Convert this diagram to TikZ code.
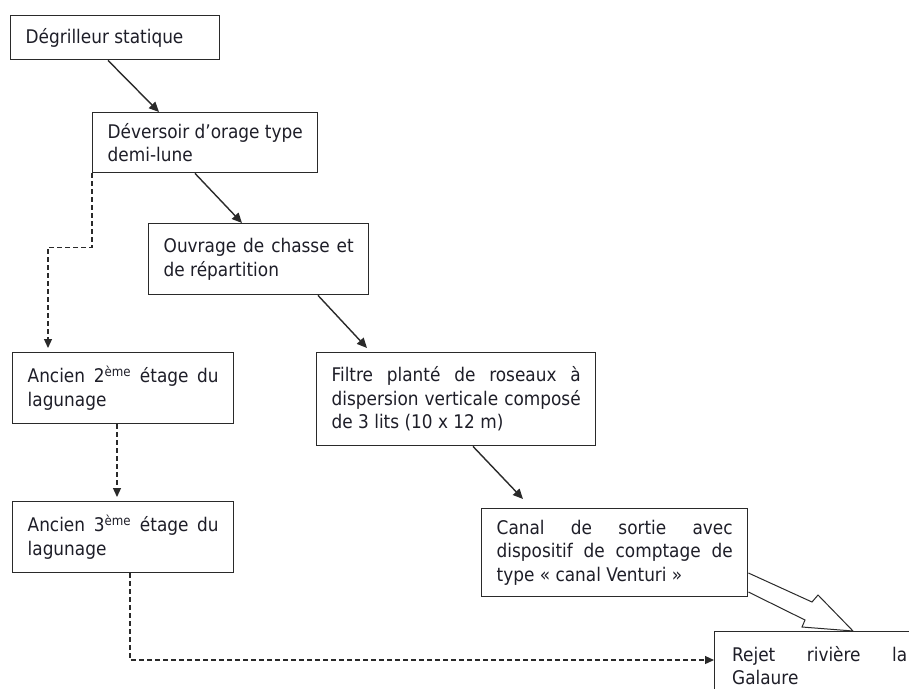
\documentclass[tikz,border=0pt]{standalone}
\usepackage{fontspec}
\setmainfont{DejaVu Sans Condensed}
\usetikzlibrary{arrows.meta,calc}
\definecolor{ln}{HTML}{2A2A2A}
\definecolor{tx}{HTML}{1E1E28}
\begin{document}
\begin{tikzpicture}[x=1pt,y=-1pt,
  box/.style={draw=ln, line width=1.4pt, fill=white, anchor=north west,
    inner xsep=15pt, inner ysep=4pt, align=justify, text=tx,
    font=\fontsize{18.8}{23.5}\selectfont},
  solidarr/.style={draw=ln, line width=1.4pt, -{Triangle[length=10pt,width=9pt]}},
  dasharr/.style={draw=ln, line width=1.2pt, dash pattern=on 5pt off 3pt,
    -{Triangle[length=9pt,width=8pt]}},
  hollow/.style={draw=ln, line width=1pt, fill=white, line join=miter}
]
\useasboundingbox (0,0) rectangle (909,688);
\clip (0,0) rectangle (909,688);
\fill[white] (0,0) rectangle (909,688);

\node[box, minimum width=209pt, minimum height=44pt, text width=179pt] (b1) at (10,15)
  {Dégrilleur statique};
\node[box, minimum width=225pt, minimum height=60pt, text width=195pt] (b2) at (92,112)
  {Déversoir d’orage type\linebreak demi-lune};
\node[box, minimum width=220pt, minimum height=71pt, text width=190pt] (b3) at (148,223)
  {Ouvrage de chasse et\linebreak de répartition};
\node[box, minimum width=279pt, minimum height=93pt, text width=249pt] (b4) at (316,352)
  {Filtre planté de roseaux à\linebreak dispersion verticale composé\linebreak de 3 lits (10 x 12 m)};
\node[box, minimum width=266pt, minimum height=88pt, text width=236pt] (b5) at (481,508)
  {Canal de sortie avec\linebreak dispositif de comptage de\linebreak type «~canal Venturi~»};
\node[box, minimum width=221pt, minimum height=71pt, text width=191pt] (a2) at (12,352)
  {Ancien 2\textsuperscript{ème} étage du\linebreak lagunage};
\node[box, minimum width=221pt, minimum height=71pt, text width=191pt] (a3) at (12,501)
  {Ancien 3\textsuperscript{ème} étage du\linebreak lagunage};
\node[box, minimum width=210pt, minimum height=68pt, text width=175pt] (r) at (714,631)
  {Rejet rivière la\linebreak Galaure};

% solid connectors
\draw[solidarr] ([xshift=98pt]b1.south west) -- ([xshift=67pt]b2.north west);
\draw[solidarr] ([xshift=103pt]b2.south west) -- ([xshift=94pt]b3.north west);
\draw[solidarr] ([xshift=170pt]b3.south west) -- ([xshift=51pt,yshift=4pt]b4.north west);
\draw[solidarr] ([xshift=157pt]b4.south west) -- ([xshift=42pt,yshift=9pt]b5.north west);

% dashed connectors
\coordinate (k1) at ($(b2.south west)+(0,74)$);
\draw[dasharr] (b2.south west) -- (k1) -| ([xshift=36pt,yshift=4pt]a2.north west);
\draw[dasharr] ([xshift=105pt]a2.south west) -- ([xshift=105pt,yshift=4pt]a3.north west);
\draw[dasharr] ([xshift=118pt]a3.south west) |- ([yshift=-29pt]r.north west);

% hollow block arrow
\draw[hollow] ($(b5.north east)+(0,65)$) -- (812,602) -- (818,595)
  -- ($(r.north west)+(139,0)$) -- (802,627) -- (805,620)
  -- ($(b5.north east)+(0,84)$);
\end{tikzpicture}
\end{document}
